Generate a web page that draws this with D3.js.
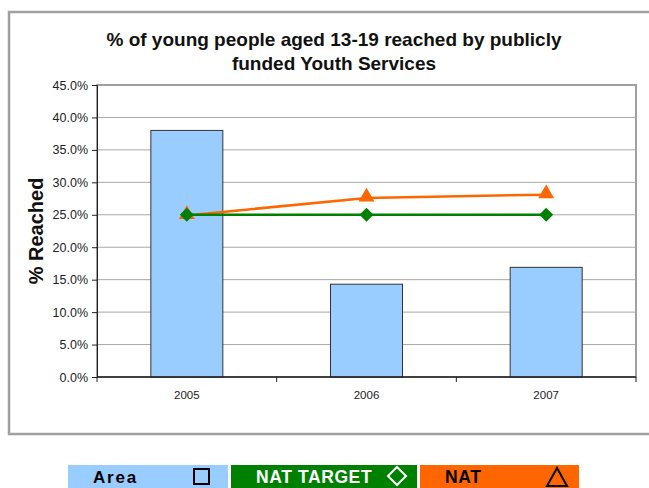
<!DOCTYPE html>
<html>
    <head>
        <title>Youth Services</title>
        <meta charset="UTF-8">
        <script src="https://d3js.org/d3.v7.min.js"></script>
        <style>
            body{margin:0;background:#fff;}
            text{font-family:"Liberation Sans",Arial,sans-serif;}
        </style>
    </head>
    <body>
        <script>
            var years = ["2005","2006","2007"];
            var area = [38.0, 14.3, 16.9];
            var natTarget = [25.0, 25.0, 25.0];
            var nat = [24.9, 27.6, 28.1];
            var yTicks = [0,5,10,15,20,25,30,35,40,45];

            var w=649,h=488;
            var m={left:97,right:636,top:85,bottom:377};

            var svg=d3.select("body").append("svg")
                    .attr("width",w)
                    .attr("height",h);

            // outer chart frame
            svg.append("rect")
                    .attr("x",9).attr("y",12)
                    .attr("width",660).attr("height",422)
                    .attr("fill","white")
                    .attr("stroke","#a0a0a0")
                    .attr("stroke-width",2.5);

            var x=d3.scaleBand()
                    .domain(years)
                    .range([m.left,m.right]);
            var y=d3.scaleLinear()
                    .domain([0,45])
                    .range([m.bottom,m.top]);

            // plot area
            svg.append("rect")
                    .attr("x",m.left).attr("y",m.top)
                    .attr("width",m.right-m.left).attr("height",m.bottom-m.top)
                    .attr("fill","white")
                    .attr("stroke","#a0a0a0")
                    .attr("stroke-width",2);

            svg.selectAll("line.grid")
                    .data(yTicks.filter(function(d){return d>0 && d<45;}))
                    .enter()
                    .append("line")
                    .attr("class","grid")
                    .attr("x1",m.left).attr("x2",m.right)
                    .attr("y1",function(d){return y(d);})
                    .attr("y2",function(d){return y(d);})
                    .attr("stroke","#a8a8a8")
                    .attr("stroke-width",1);

            // bars
            var bw=72;
            svg.selectAll("rect.bar")
                    .data(area)
                    .enter()
                    .append("rect")
                    .attr("class","bar")
                    .attr("x",function(d,i){return x(years[i])+x.bandwidth()/2-bw/2;})
                    .attr("y",function(d){return y(d);})
                    .attr("width",bw)
                    .attr("height",function(d){return y(0)-y(d);})
                    .attr("fill","#99ccff")
                    .attr("stroke","#333")
                    .attr("stroke-width",1);

            // axes
            var yAxis=d3.axisLeft(y)
                    .tickValues(yTicks)
                    .tickSize(5)
                    .tickFormat(function(d){return d.toFixed(1)+"%";});
            var gy=svg.append("g")
                    .attr("transform","translate("+m.left+",0)")
                    .call(yAxis);
            gy.select(".domain").attr("stroke","#222");
            gy.selectAll(".tick line").attr("stroke","#222");
            gy.selectAll("text")
                    .attr("font-size",12.5)
                    .attr("font-family","Liberation Sans, Arial")
                    .attr("fill","#222")
                    .attr("x",-9);

            var gx=svg.append("g")
                    .attr("transform","translate(0,"+m.bottom+")");
            gx.append("line")
                    .attr("x1",m.left).attr("x2",m.right)
                    .attr("stroke","#222").attr("stroke-width",1.5);
            gx.selectAll("line.tk")
                    .data(years.concat(["end"]))
                    .enter()
                    .append("line")
                    .attr("class","tk")
                    .attr("x1",function(d,i){return m.left+i*x.bandwidth();})
                    .attr("x2",function(d,i){return m.left+i*x.bandwidth();})
                    .attr("y1",0).attr("y2",5)
                    .attr("stroke","#222");
            gx.selectAll("text")
                    .data(years)
                    .enter()
                    .append("text")
                    .text(function(d){return d;})
                    .attr("x",function(d){return x(d)+x.bandwidth()/2;})
                    .attr("y",22)
                    .attr("text-anchor","middle")
                    .attr("font-size",11.5)
                    .attr("fill","#222");

            // lines
            var cx=function(d,i){return x(years[i])+x.bandwidth()/2;};
            var line=d3.line()
                    .x(cx)
                    .y(function(d){return y(d);});

            svg.append("path")
                    .datum(nat)
                    .attr("d",line)
                    .attr("fill","none")
                    .attr("stroke","#ff6600")
                    .attr("stroke-width",2.5);
            svg.selectAll("path.tri")
                    .data(nat)
                    .enter()
                    .append("path")
                    .attr("class","tri")
                    .attr("d",d3.symbol().type(d3.symbolTriangle).size(110))
                    .attr("transform",function(d,i){return "translate("+cx(d,i)+","+(y(d)-1)+")";})
                    .attr("fill","#ff6600");

            svg.append("path")
                    .datum(natTarget)
                    .attr("d",line)
                    .attr("fill","none")
                    .attr("stroke","#008000")
                    .attr("stroke-width",2.5);
            svg.selectAll("path.dia")
                    .data(natTarget)
                    .enter()
                    .append("path")
                    .attr("class","dia")
                    .attr("d","M0,-7L7,0L0,7L-7,0Z")
                    .attr("transform",function(d,i){return "translate("+cx(d,i)+","+y(d)+")";})
                    .attr("fill","#008000");

            // title
            svg.append("text")
                    .attr("x",334).attr("y",46)
                    .attr("text-anchor","middle")
                    .attr("font-size",19).attr("font-weight","bold")
                    .attr("fill","#111")
                    .text("% of young people aged 13-19 reached by publicly");
            svg.append("text")
                    .attr("x",334).attr("y",70)
                    .attr("text-anchor","middle")
                    .attr("font-size",19).attr("font-weight","bold")
                    .attr("fill","#111")
                    .text("funded Youth Services");

            svg.append("text")
                    .attr("transform","translate(43,231) rotate(-90)")
                    .attr("text-anchor","middle")
                    .attr("font-size",20).attr("font-weight","bold")
                    .attr("fill","#111")
                    .text("% Reached");

            // legend boxes
            var lg=svg.append("g");
            lg.append("rect").attr("x",68).attr("y",465).attr("width",160).attr("height",23).attr("fill","#99ccff");
            lg.append("rect").attr("x",231).attr("y",465).attr("width",186).attr("height",23).attr("fill","#008000");
            lg.append("rect").attr("x",420).attr("y",465).attr("width",159).attr("height",23).attr("fill","#ff6600");

            lg.append("text").attr("x",93).attr("y",483).attr("font-size",17).attr("font-weight","bold")
                    .attr("letter-spacing",1.8).attr("fill","#000").text("Area");
            lg.append("rect").attr("x",194).attr("y",469).attr("width",15).attr("height",15)
                    .attr("fill","none").attr("stroke","#000").attr("stroke-width",2);

            lg.append("text").attr("x",256).attr("y",483).attr("font-size",17.5).attr("font-weight","bold")
                    .attr("letter-spacing",0.6).attr("fill","#fff").text("NAT TARGET");
            lg.append("path").attr("d","M397,467L406,476L397,485L388,476Z")
                    .attr("fill","none").attr("stroke","#fff").attr("stroke-width",2);

            lg.append("text").attr("x",445).attr("y",483).attr("font-size",17.5).attr("font-weight","bold")
                    .attr("letter-spacing",0.6).attr("fill","#000").text("NAT");
            lg.append("path").attr("d","M557,468L567,486L547,486Z")
                    .attr("fill","none").attr("stroke","#000").attr("stroke-width",2);
        </script>
    </body>
</html>
